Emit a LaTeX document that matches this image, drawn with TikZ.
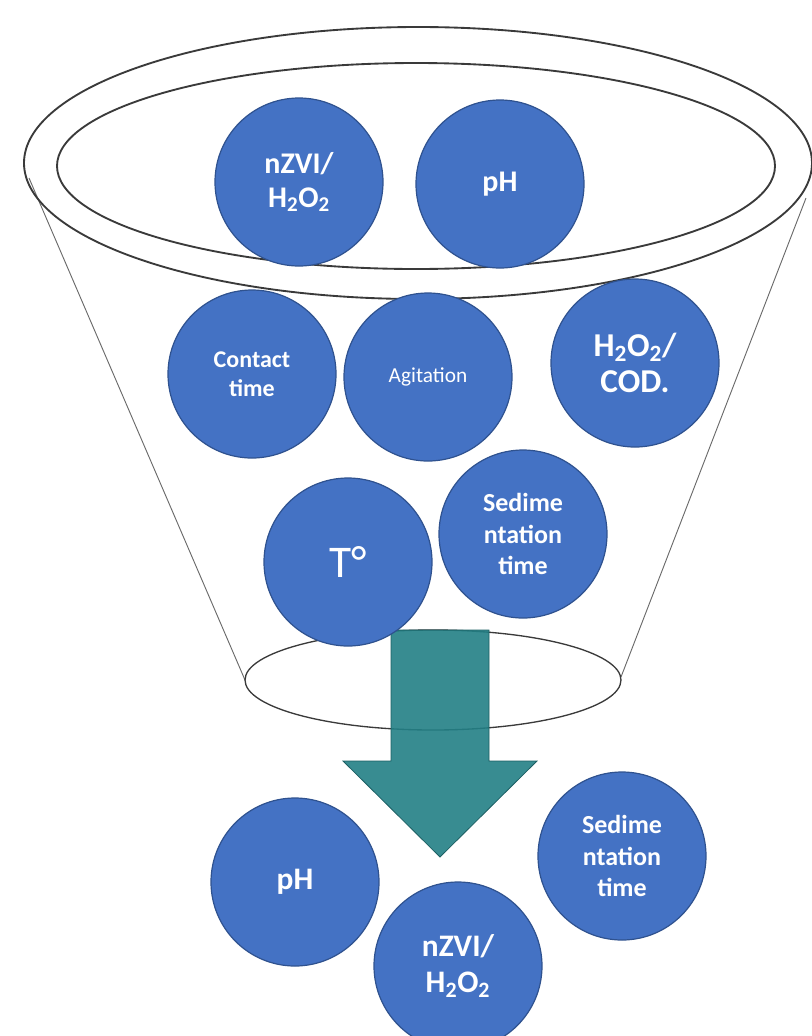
\documentclass[tikz,border=0pt]{standalone}
\usepackage{fontspec}
\setmainfont{Carlito}
\definecolor{ballfill}{HTML}{4472C4}
\definecolor{balledge}{HTML}{2F528F}
\definecolor{arrowfill}{HTML}{227F85}
\definecolor{arrowedge}{HTML}{1C5F63}
\definecolor{rimline}{HTML}{3A3A3A}
\definecolor{sideline}{HTML}{6A6A6A}
\begin{document}
\begin{tikzpicture}[x=0.75pt,y=-0.75pt,
  ball/.style={circle, fill=ballfill, draw=balledge, line width=0.9pt,
    minimum size=126pt, inner sep=0pt, text=white, align=center},
  rim/.style={draw=rimline, line width=1.4pt},
  lowrim/.style={draw=rimline, line width=1.0pt},
  side/.style={draw=sideline, line width=0.7pt},
  bigarrow/.style={fill=arrowfill, fill opacity=0.9, draw=arrowedge, line width=0.6pt},
  fA/.style={font=\bfseries\fontsize{22.5}{26}\selectfont},
  fB/.style={font=\bfseries\fontsize{18}{22}\selectfont},
  fC/.style={font=\fontsize{16}{19}\selectfont},
  fD/.style={font=\bfseries\fontsize{25}{27.5}\selectfont},
  fE/.style={font=\fontsize{34}{38}\selectfont},
  fF/.style={font=\bfseries\fontsize{19.5}{23.6}\selectfont},
  fG/.style={font=\bfseries\fontsize{23.5}{27.5}\selectfont}]
\useasboundingbox (0,0) rectangle (812,1036);
% funnel
\coordinate (tl) at (29,178);
\coordinate (bl) at (245,680);
\coordinate (tr) at (806,198);
\coordinate (br) at (621,677);
\draw[side] (tl) -- (bl);
\draw[side] (tr) -- (br);
\draw[rim] (418,163) ellipse [x radius=394, y radius=136];
\draw[rim] (416,166) ellipse [x radius=359, y radius=103];
\draw[lowrim] (433,680) ellipse [x radius=188, y radius=50];
% arrow
\draw[bigarrow] (391,630) -- (489,630) -- (489,761) -- (537,761) -- (440,857)
  -- (343,761) -- (391,761) -- cycle;
% circles
\node[ball, fA] (t1) at (299,182) {nZVI/\\H\textsubscript{2}O\textsubscript{2}};
\node[ball, fA] (t2) at (500,184) {pH};
\node[ball, fB] (m1) at (252,374) {Contact\\time};
\node[ball, fC] (m2) at (428,377) {Agitation};
\node[ball, fD] (m3) at (635,363) {H\textsubscript{2}O\textsubscript{2}/\\COD.};
\node[ball, fE] (m4) at (348,562) {T°};
\node[ball, fF] (m5) at (523,534) {Sedime\\ntation\\time};
\node[ball, fG] (b1) at (295,882) {pH};
\node[ball, fG] (b2) at (458,966) {nZVI/\\H\textsubscript{2}O\textsubscript{2}};
\node[ball, fF] (b3) at (622,856) {Sedime\\ntation\\time};
\end{tikzpicture}
\end{document}
